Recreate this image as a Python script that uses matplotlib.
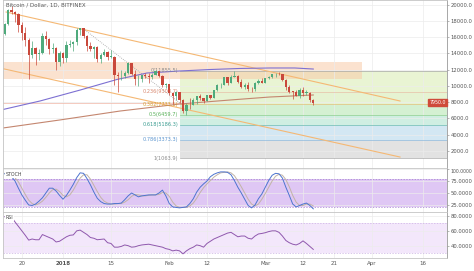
import numpy as np
import matplotlib.pyplot as plt
import matplotlib.transforms as mtransforms

# day numbers, 0 = 1 Jan 2018 ; candles run 15 Dec 2017 .. 15 Mar 2018
days = np.arange(-17, 74)

opens = [16400, 17600, 19300, 19100, 18900, 17500, 16500, 15600, 13800, 14700, 13900, 14000, 16100, 15800, 14600, 14700, 12900,
         14100, 13500, 15000, 15200, 15400, 16900, 17100, 16200, 14900, 14500, 14800, 13300, 13800, 14200, 13600, 13600,
         11300, 11200, 11200, 11600, 12800, 11500, 10800, 10900, 11300, 11200, 11100, 11400, 11800, 11200, 10100,
         10200, 9100, 8800, 9200, 8200, 6900, 7700, 7600, 8200, 8700, 8500, 8100, 8900, 8500, 9450, 10050, 10150,
         11050, 10400, 11150, 11200, 10450, 9850, 10150, 9650, 9600, 10300, 10650,
         10350, 10950, 11050, 11450, 11500, 11450, 10700, 9900, 9300, 9250, 8800, 9550, 9150, 9150, 8200]
highs = [17800, 19450, 19890, 19200, 19000, 17900, 17300, 15900, 15500, 14800, 14500, 16500, 16800, 15900, 15300, 14800, 14300,
         14200, 15500, 15600, 15500, 17100, 17200, 17100, 16300, 15400, 14900, 14900, 14100, 14500, 14300, 14400, 13700,
         11700, 12000, 11800, 13000, 12800, 11900, 11300, 11400, 11600, 11600, 11600, 12000, 11800, 11300, 10400,
         10200, 9200, 9400, 9300, 8400, 7900, 8500, 8500, 8700, 9000, 8500, 8900, 8900, 9500, 10200, 10300,
         11100, 11100, 11300, 11800, 11300, 10900, 10400, 10500, 9900, 10500, 10800, 11000,
         11000, 11200, 11500, 11550, 11700, 11450, 10900, 10100, 9400, 9500, 9700, 9900, 9450, 9300, 8400]
lows = [16300, 17500, 18900, 17900, 16600, 15600, 14900, 10900, 13500, 12600, 13200, 13900, 15000, 13900, 14100, 12000, 12500,
        12800, 13000, 14800, 14300, 15000, 16300, 15900, 14300, 14300, 13500, 12900, 12800, 13700, 13200, 13400, 10100,
        9200, 10700, 11000, 11500, 11300, 10100, 10000, 10500, 11000, 10400, 10900, 11400, 11100, 9900, 9700,
        8900, 7800, 8200, 7900, 6700, 6400, 7200, 7600, 7800, 8200, 7900, 8100, 8400, 8500, 9400, 9700,
        10100, 10100, 10300, 11100, 10300, 9800, 9600, 9400, 9300, 9400, 10200, 10300,
        10300, 10800, 11000, 11100, 11400, 10600, 9500, 9100, 8400, 8800, 8500, 8800, 8900, 8000, 7700]
closes = [17600, 19300, 19100, 18900, 17500, 16500, 15600, 13800, 14700, 13900, 14000, 16100, 15800, 14600, 14700, 12900, 14100,
          13500, 15000, 15200, 15400, 16900, 17100, 16200, 14900, 14500, 14800, 13300, 13800, 14200, 13600, 13600, 11300,
          11200, 11200, 11600, 12800, 11500, 10800, 10900, 11300, 11200, 11100, 11400, 11800, 11200, 10100, 10200,
          9100, 8800, 9200, 8200, 6900, 7700, 7600, 8200, 8700, 8500, 8100, 8900, 8500, 9450, 10050, 10150,
          11050, 10400, 11150, 11200, 10450, 9850, 10150, 9650, 9600, 10300, 10650, 10350,
          10950, 11050, 11450, 11500, 11450, 10700, 9900, 9300, 9250, 8800, 9550, 9150, 9150, 8200, 7950]

stoch_k = [90, 88, 84, 75, 60, 46, 35, 25, 24, 27, 33, 40, 50, 60, 60, 54, 45,
           37, 45, 56, 68, 82, 92, 91, 80, 67, 52, 39, 32, 28, 27, 27, 28, 28, 29, 36, 44, 50, 46, 42, 44, 45, 46, 46, 46, 50, 56, 44,
           28, 21, 20, 19, 20, 21, 28, 38, 52, 62, 69, 75, 84, 89, 92, 94, 94, 93, 88, 76, 62, 50, 37, 24, 19, 25, 38, 48,
           62, 76, 87, 91, 90, 81, 62, 45, 27, 21, 24, 27, 29, 24, 17]
stoch_d = [91, 90, 87, 82, 73, 60, 47, 35, 28, 25, 28, 33, 41, 50, 57, 58, 53,
           45, 42, 46, 56, 69, 81, 88, 88, 79, 66, 53, 41, 33, 29, 27, 27, 28, 28, 31, 36, 43, 47, 46, 44, 44, 45, 46, 46, 47, 51, 50,
           43, 31, 23, 20, 20, 20, 23, 29, 39, 51, 61, 69, 76, 83, 88, 92, 93, 94, 92, 86, 75, 63, 50, 37, 27, 23, 27, 37,
           49, 62, 75, 85, 89, 87, 78, 63, 45, 31, 24, 24, 27, 27, 23]
rsi = [79, 79, 78.5, 72, 66, 60, 54, 47.5, 49, 48, 48, 55, 53, 51, 49, 45, 46,
       49, 52, 54, 54.5, 60, 61, 58, 55, 51, 50, 48, 48.5, 49, 44, 43, 38, 38, 39, 41, 40, 38, 38.5, 40, 41, 41.5, 42, 41, 40, 39, 38, 36,
       35, 33, 34, 33, 29, 33, 36, 38, 41, 40, 38, 43, 46, 49, 51, 53, 55, 57, 58, 55, 52, 53, 53, 50, 49, 53, 55.8, 56.5,
       57.5, 59, 60, 60, 58, 53, 47, 44, 42, 41, 43, 46.5, 43, 39, 35]

# moving averages
ma_a_days = [-17.5, -6.7, 5, 15.7, 24.5, 34.1, 42.9, 51.6, 60.3, 67.6, 73]
ma_a_vals = [7090, 8140, 9490, 10790, 11590, 11840, 12020, 12150, 12210, 12210, 12080]
ma_b_days = [-17.5, -0.9, 16.6, 34.1, 48.7, 60.3, 73]
ma_b_vals = [4810, 5800, 6900, 7770, 8260, 8630, 8880]

# drawings
chan_up_days, chan_up_vals = [-16.6, 98.3], [19110, 8140]
chan_lo_days, chan_lo_vals = [-18.4, 98.3], [12210, 1230]
trend_days, trend_vals = [6.4, 34.1], [16890, 7890]
hline_days, hline_val = [-17.5, 34.1], 7850
zone_days, zone_lo, zone_hi = [-17.5, 87.2], 10850, 12950

fib_start = 34.1
fib_high, fib_low = 11855.5, 1063.9
fib_ratios = [0, 0.236, 0.382, 0.5, 0.618, 0.786, 1]
fib_names = ['0', '0.236', '0.382', '0.5', '0.618', '0.786', '1']
fib_line_colors = ['#a8a8a8', '#e8c0a8', '#e6c27a', '#8fcf8c', '#6cbcb0', '#8dbbe0', '#a8a8a8']
fib_text_colors = ['#8a8a8a', '#d9876e', '#d6a030', '#58b058', '#3a9c90', '#5b95cf', '#8a8a8a']
fib_fill_colors = ['#e9f4d3', '#e6f3d2', '#d4f0d2', '#cfeee2', '#d3e7f3', '#e2e2e2']

xtick_days = [-12, 0, 14, 31, 42, 59, 70, 79, 90, 105]
xtick_labels = ['20', '2018', '15', 'Feb', '12', 'Mar', '12', '21', 'Apr', '16']
last_price_label = '7950.0'

up_col = '#4faa7c'
dn_col = '#c9483b'
xmin, xmax = -17.5, 112

fig = plt.figure(figsize=(4.74, 2.71), dpi=100)
L, W = 3 / 474, 444 / 474
ax = fig.add_axes([L, 103 / 271, W, 168 / 271])
ax_st = fig.add_axes([L, 59 / 271, W, 44 / 271])
ax_rsi = fig.add_axes([L, 13 / 271, W, 46 / 271])

for a in (ax, ax_st, ax_rsi):
    a.set_xlim(xmin, xmax)
    a.set_axisbelow(True)
    a.grid(True, color='#ececec', lw=0.5)
    a.yaxis.tick_right()
    a.tick_params(axis='y', length=1.5, width=0.5, colors='#999999', labelsize=3.8, labelcolor='#555555', pad=1)
    a.tick_params(axis='x', length=0, labelbottom=False)
    a.set_xticks(xtick_days)
    for s in a.spines.values():
        s.set_color('#c4c4c4')
        s.set_linewidth(0.6)
    a.spines['right'].set_color('#999999')

# ---- main pane ----
ax.set_ylim(-123, 20592)
ax.set_yticks(np.arange(2000, 20001, 2000))
ax.set_yticklabels([f'{v:.1f}' for v in range(2000, 20001, 2000)])

fib_levels = [fib_high - r * (fib_high - fib_low) for r in fib_ratios]
for i in range(len(fib_levels) - 1):
    ax.fill_between([fib_start, xmax], fib_levels[i + 1], fib_levels[i], color=fib_fill_colors[i], lw=0, zorder=0)
for name, lev, lc, tc in zip(fib_names, fib_levels, fib_line_colors, fib_text_colors):
    ax.plot([fib_start, xmax], [lev, lev], color=lc, lw=0.5, zorder=0.6)
    ax.text(fib_start - 0.5, lev, f'{name}({lev:.1f})', color=tc, fontsize=3.6, ha='right', va='center', zorder=1.5)

ax.fill_between(zone_days, zone_lo, zone_hi, color='#f8cba8', alpha=0.55, lw=0, zorder=0.2)

ax.plot(hline_days, [hline_val, hline_val], color='#f2c2b4', lw=0.6, zorder=1)
ax.plot(chan_up_days, chan_up_vals, color='#f5b874', lw=0.8, zorder=1.2)
ax.plot(chan_lo_days, chan_lo_vals, color='#f5b874', lw=0.8, zorder=1.2)
ax.plot(trend_days, trend_vals, color='#a0a0a0', lw=0.6, ls=(0, (1, 1.5)), zorder=1.2)
ax.plot(ma_a_days, ma_a_vals, color='#7d70d2', lw=0.8, zorder=1.3)
ax.plot(ma_b_days, ma_b_vals, color='#c4866f', lw=0.8, zorder=1.3)

o = np.array(opens)
h = np.array(highs)
l = np.array(lows)
c = np.array(closes)
cols = [up_col if cc >= oo else dn_col for oo, cc in zip(o, c)]
ax.vlines(days, l, h, colors=cols, lw=0.5, zorder=3)
body_lo = np.minimum(o, c)
body_h = np.maximum(np.abs(c - o), 60)
ax.bar(days, body_h, bottom=body_lo, width=0.65, color=cols, lw=0, zorder=3.1)

ax.text(0.006, 0.985, 'Bitcoin / Dollar, 1D, BITFINEX', transform=ax.transAxes, fontsize=4,
        color='#555555', ha='left', va='top')
tr = mtransforms.blended_transform_factory(ax.transAxes, ax.transData)
ax.text(0.997, closes[-1], last_price_label, transform=tr, fontsize=3.4, color='white', ha='right', va='center',
        bbox=dict(boxstyle='square,pad=0.25', fc='#cf4a3a', ec='#cf4a3a'), zorder=5)

# ---- stochastic pane ----
ax_st.set_ylim(10.4, 102.1)
ax_st.set_yticks([25, 50, 75, 100])
ax_st.set_yticklabels(['25.0000', '50.0000', '75.0000', '100.0000'])
top_lab = ax_st.get_yticklabels()[-1]
top_lab.set_va('top')
top_lab.set_fontsize(3.3)
ax_st.axhspan(20, 80, color='#dfc7f4', lw=0, zorder=0)
for v in (20, 80):
    ax_st.axhline(v, color='#a27fcf', lw=0.5, ls=(0, (2, 2)), zorder=0.7)
ax_st.plot(days, stoch_d, color='#c2b4a6', lw=0.7, zorder=2)
ax_st.plot(days, stoch_k, color='#4d74cf', lw=0.7, zorder=2.1)
ax_st.text(0.006, 0.9, 'STOCH', transform=ax_st.transAxes, fontsize=3.4, color='#444444', ha='left', va='top',
           bbox=dict(boxstyle='square,pad=0.15', fc='white', ec='none'))

# ---- RSI pane ----
ax_rsi.set_ylim(23.4, 85.4)
ax_rsi.set_yticks([40, 60, 80])
ax_rsi.set_yticklabels(['40.0000', '60.0000', '80.0000'])
ax_rsi.axhspan(30, 70, color='#f3e7fb', lw=0, zorder=0)
for v in (30, 70):
    ax_rsi.axhline(v, color='#cbb0e3', lw=0.5, ls=(0, (2, 2)), zorder=0.7)
ax_rsi.plot(days, rsi, color='#8f58ad', lw=0.7, zorder=2)
ax_rsi.text(0.006, 0.93, 'RSI', transform=ax_rsi.transAxes, fontsize=3.4, color='#444444', ha='left', va='top',
            bbox=dict(boxstyle='square,pad=0.15', fc='white', ec='none'))

ax_rsi.tick_params(axis='x', length=0, labelbottom=True, labelsize=4, labelcolor='#555555', pad=2.5)
ax_rsi.set_xticklabels(xtick_labels)
for t in ax_rsi.get_xticklabels():
    if t.get_text() == '2018':
        t.set_fontweight('bold')

fig.savefig('out.png', dpi=100)
